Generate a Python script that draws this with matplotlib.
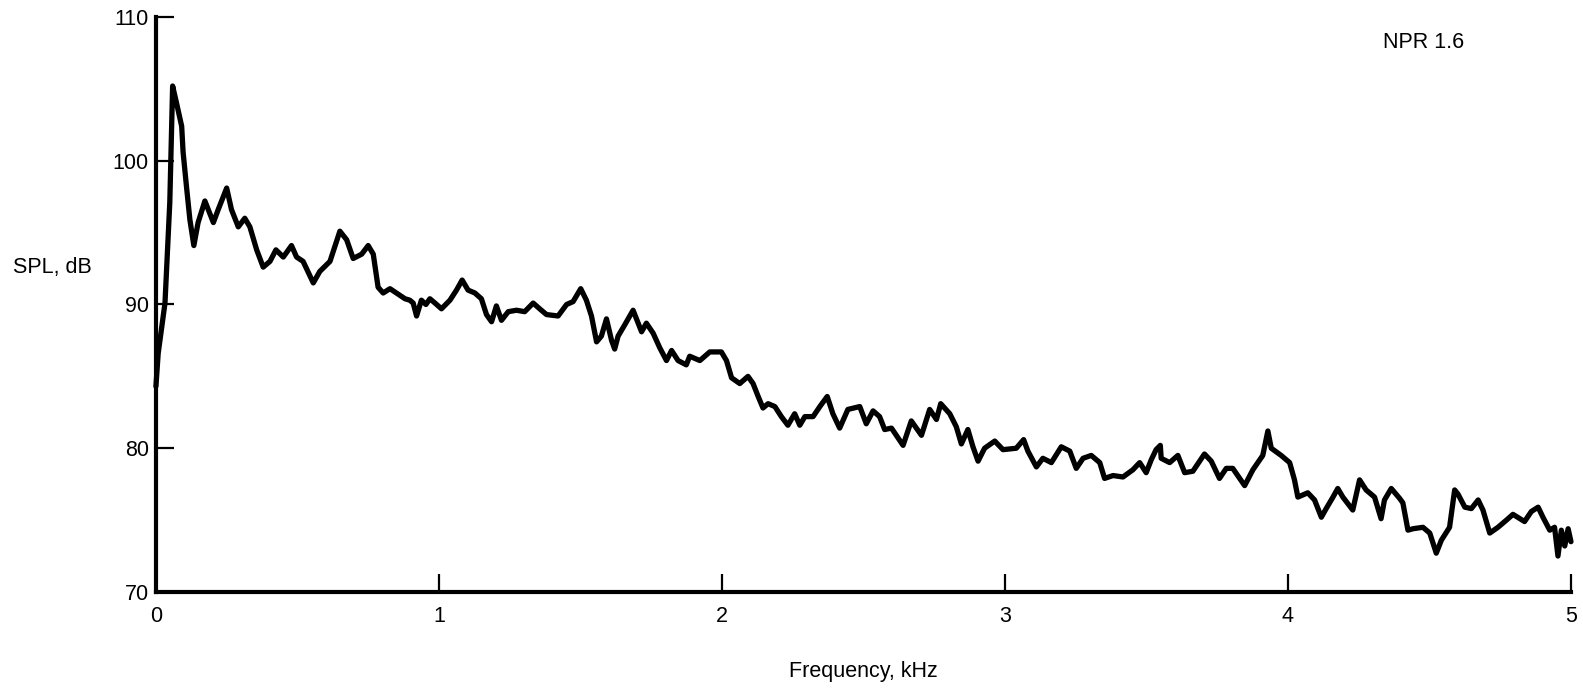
import matplotlib
matplotlib.use("Agg")
import matplotlib.pyplot as plt

# narrowband jet noise spectrum, NPR 1.6
freq_khz = [
    0.000, 0.008, 0.032, 0.049, 0.059, 0.073, 0.091, 0.096, 0.108, 0.120,
    0.134, 0.149, 0.173, 0.203, 0.220, 0.250, 0.267, 0.291, 0.314, 0.332,
    0.356, 0.379, 0.403, 0.424, 0.450, 0.479, 0.497, 0.520, 0.556, 0.579,
    0.615, 0.650, 0.674, 0.697, 0.727, 0.750, 0.768, 0.785, 0.803, 0.827,
    0.850, 0.880, 0.897, 0.909, 0.921, 0.938, 0.954, 0.968, 0.986, 1.009,
    1.039, 1.062, 1.082, 1.103, 1.127, 1.150, 1.168, 1.186, 1.203, 1.221,
    1.245, 1.274, 1.303, 1.333, 1.356, 1.380, 1.421, 1.451, 1.474, 1.501,
    1.521, 1.539, 1.557, 1.574, 1.592, 1.610, 1.621, 1.633, 1.657, 1.686,
    1.716, 1.733, 1.757, 1.780, 1.804, 1.822, 1.845, 1.874, 1.886, 1.922,
    1.957, 1.998, 2.016, 2.034, 2.063, 2.092, 2.110, 2.128, 2.145, 2.163,
    2.187, 2.210, 2.233, 2.257, 2.275, 2.293, 2.322, 2.346, 2.372, 2.392,
    2.416, 2.445, 2.487, 2.510, 2.534, 2.557, 2.575, 2.599, 2.616, 2.640,
    2.669, 2.705, 2.734, 2.758, 2.773, 2.805, 2.828, 2.846, 2.869, 2.887,
    2.905, 2.928, 2.964, 2.993, 3.040, 3.066, 3.081, 3.111, 3.134, 3.164,
    3.199, 3.229, 3.252, 3.276, 3.305, 3.335, 3.352, 3.382, 3.417, 3.452,
    3.476, 3.499, 3.517, 3.534, 3.549, 3.552, 3.582, 3.611, 3.635, 3.664,
    3.705, 3.729, 3.758, 3.782, 3.805, 3.847, 3.876, 3.911, 3.929, 3.941,
    3.976, 4.006, 4.023, 4.035, 4.070, 4.094, 4.118, 4.135, 4.159, 4.176,
    4.194, 4.229, 4.253, 4.276, 4.306, 4.329, 4.341, 4.365, 4.395, 4.406,
    4.424, 4.442, 4.477, 4.501, 4.524, 4.542, 4.571, 4.589, 4.601, 4.625,
    4.648, 4.672, 4.689, 4.713, 4.742, 4.772, 4.795, 4.836, 4.860, 4.884,
    4.901, 4.925, 4.942, 4.954, 4.966, 4.978, 4.990, 5.000,
]
spl_db = [
    84.3, 86.6, 90.1, 97.1, 105.2, 104.0, 102.4, 100.6, 98.2, 95.9,
    94.1, 95.7, 97.2, 95.7, 96.6, 98.1, 96.6, 95.4, 96.0, 95.4,
    93.8, 92.6, 93.0, 93.8, 93.3, 94.1, 93.3, 93.0, 91.5, 92.3,
    93.0, 95.1, 94.5, 93.2, 93.5, 94.1, 93.5, 91.2, 90.8, 91.1,
    90.8, 90.4, 90.3, 90.1, 89.2, 90.3, 90.0, 90.4, 90.1, 89.7,
    90.3, 91.0, 91.7, 91.0, 90.8, 90.4, 89.3, 88.8, 89.9, 88.9,
    89.5, 89.6, 89.5, 90.1, 89.7, 89.3, 89.2, 90.0, 90.2, 91.1,
    90.3, 89.2, 87.4, 87.8, 89.0, 87.5, 86.9, 87.8, 88.6, 89.6,
    88.1, 88.7, 88.0, 87.0, 86.1, 86.8, 86.1, 85.8, 86.4, 86.1,
    86.7, 86.7, 86.1, 84.9, 84.5, 85.0, 84.5, 83.6, 82.8, 83.1,
    82.9, 82.2, 81.6, 82.4, 81.6, 82.2, 82.2, 82.9, 83.6, 82.4,
    81.4, 82.7, 82.9, 81.7, 82.6, 82.2, 81.3, 81.4, 80.9, 80.2,
    81.9, 80.9, 82.7, 82.0, 83.1, 82.4, 81.5, 80.3, 81.3, 80.1,
    79.1, 80.0, 80.5, 79.9, 80.0, 80.6, 79.8, 78.7, 79.3, 79.0,
    80.1, 79.8, 78.6, 79.3, 79.5, 79.0, 77.9, 78.1, 78.0, 78.5,
    79.0, 78.3, 79.2, 79.9, 80.2, 79.3, 79.0, 79.5, 78.3, 78.4,
    79.6, 79.1, 77.9, 78.6, 78.6, 77.4, 78.5, 79.5, 81.2, 80.0,
    79.5, 79.0, 77.8, 76.6, 76.9, 76.4, 75.2, 75.8, 76.6, 77.2,
    76.6, 75.7, 77.8, 77.1, 76.6, 75.1, 76.4, 77.2, 76.5, 76.2,
    74.3, 74.4, 74.5, 74.1, 72.7, 73.6, 74.5, 77.1, 76.8, 75.9,
    75.8, 76.4, 75.7, 74.1, 74.5, 75.0, 75.4, 74.9, 75.6, 75.9,
    75.2, 74.3, 74.5, 72.5, 74.3, 73.2, 74.4, 73.5,
]
x_ticks = [0, 1, 2, 3, 4, 5]
y_ticks = [70, 80, 90, 100, 110]

plt.rcParams["font.family"] = ["Liberation Sans", "DejaVu Sans"]

fig = plt.figure(figsize=(15.83, 6.94), dpi=100)
ax = fig.add_axes([0.0985, 0.147, 0.8939, 0.8285])

ax.plot(freq_khz, spl_db, color="black", lw=3.8, solid_joinstyle="round",
        solid_capstyle="round", clip_on=False)

ax.set_xlim(0, 5)
ax.set_ylim(70, 110)
ax.set_xticks(x_ticks)
ax.set_yticks(y_ticks)
ax.tick_params(axis="both", direction="in", length=13, width=1.6,
               labelsize=15.5, colors="black")
ax.tick_params(axis="x", pad=10)
ax.tick_params(axis="y", pad=5)

for side in ("top", "right"):
    ax.spines[side].set_visible(False)
for side in ("left", "bottom"):
    ax.spines[side].set_linewidth(3.0)

fig.text(13 / 1583, 1 - 268 / 694, "SPL, dB", fontsize=15.5, ha="left",
         va="center")
fig.text(863 / 1583, 1 - 672 / 694, "Frequency, kHz", fontsize=15.5,
         ha="center", va="center")
fig.text(1424 / 1583, 1 - 42 / 694, "NPR 1.6", fontsize=15.5, ha="center",
         va="center")

fig.savefig("out.png", dpi=100)
